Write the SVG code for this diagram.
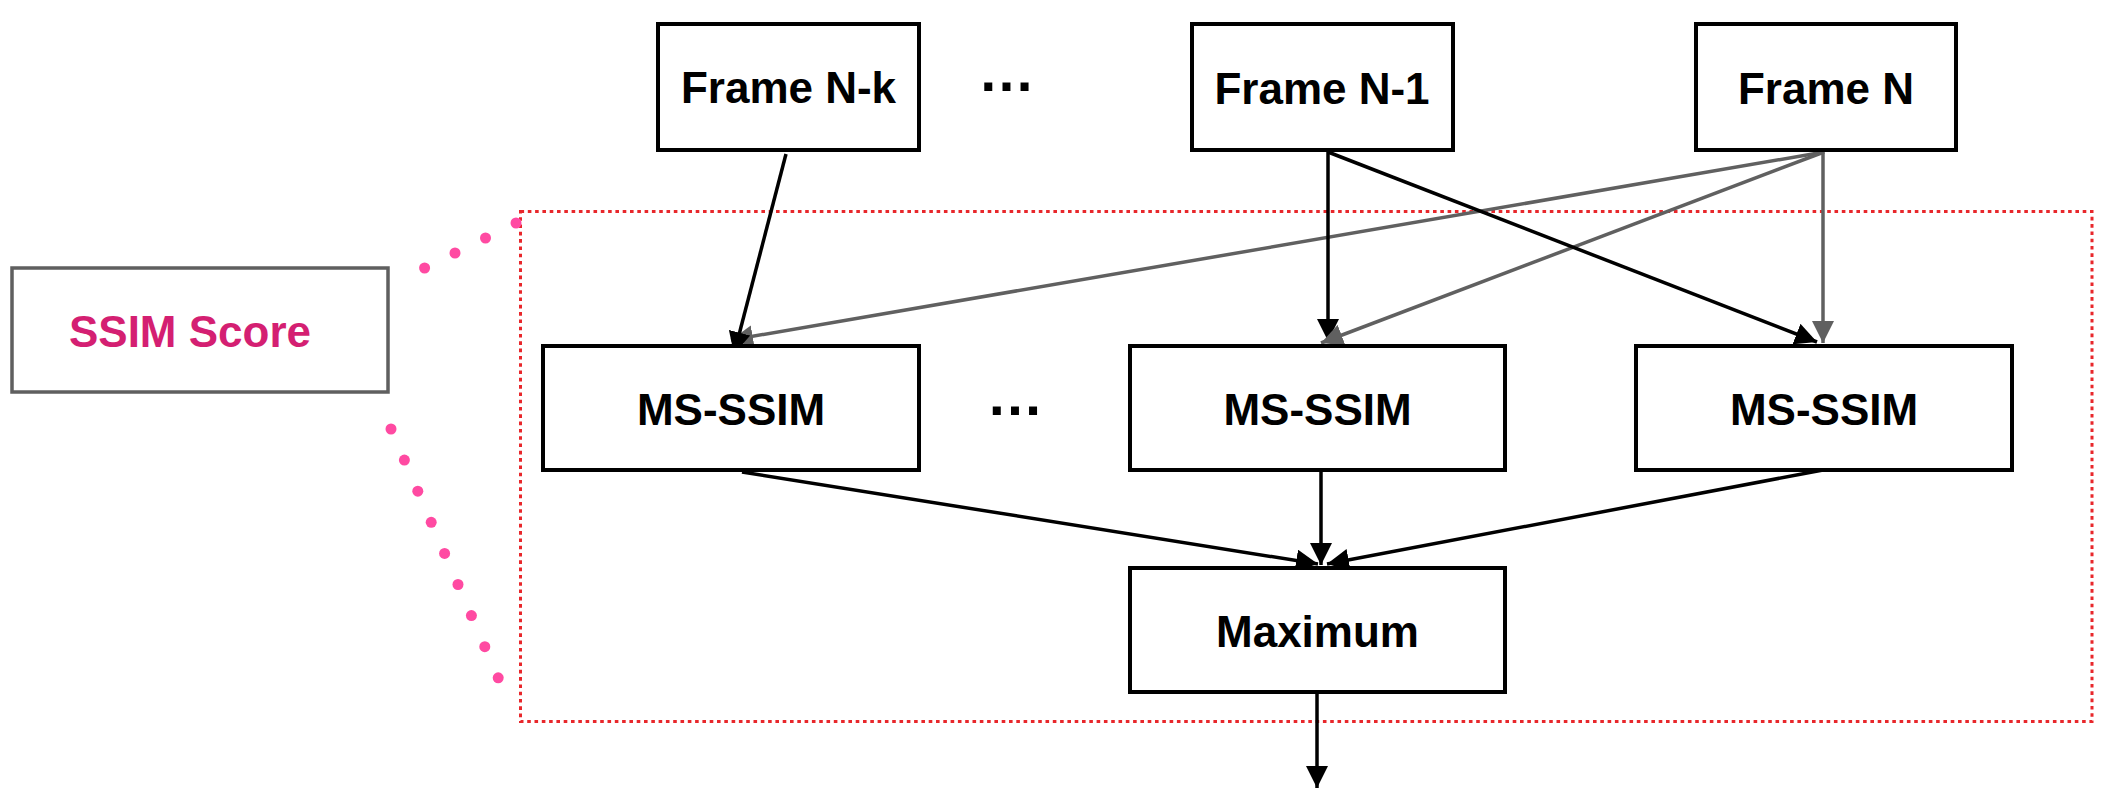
<svg xmlns="http://www.w3.org/2000/svg" width="2118" height="806" viewBox="0 0 2118 806">
<defs>
<style>
.box{fill:#fff;stroke:#000;stroke-width:4}
.lbl{font-family:"Liberation Sans",Arial,sans-serif;font-weight:bold;font-size:44px;fill:#000;text-anchor:middle}
.dots{font-family:"Liberation Sans",Arial,sans-serif;font-weight:bold;font-size:57px;fill:#000;text-anchor:middle}
.blk{fill:none;stroke:#000;stroke-width:3.5}
.gry{fill:none;stroke:#606060;stroke-width:3.5}
.pd{fill:#ff4aa2}
</style>
<marker id="ab" markerUnits="userSpaceOnUse" markerWidth="22" markerHeight="22" refX="22" refY="11" orient="auto" viewBox="0 0 22 22">
<path d="M0,0 L22,11 L0,22 Z" fill="#000"/>
</marker>
<marker id="ag" markerUnits="userSpaceOnUse" markerWidth="22" markerHeight="22" refX="22" refY="11" orient="auto" viewBox="0 0 22 22">
<path d="M0,0 L22,11 L0,22 Z" fill="#606060"/>
</marker>
</defs>
<rect width="2118" height="806" fill="#fff"/>

<g id="group-box">
<rect x="520.5" y="211.5" width="1571.5" height="510" fill="none" stroke="#e8272b" stroke-width="3" stroke-dasharray="3.6 3.7"/>
</g>

<g id="callout-dots">
<circle class="pd" cx="424.6" cy="268" r="5.5"/>
<circle class="pd" cx="455" cy="253" r="5.5"/>
<circle class="pd" cx="485.5" cy="238" r="5.5"/>
<circle class="pd" cx="516" cy="223" r="5.5"/>
<circle class="pd" cx="391" cy="429" r="5.5"/>
<circle class="pd" cx="404.4" cy="460.1" r="5.5"/>
<circle class="pd" cx="417.8" cy="491.2" r="5.5"/>
<circle class="pd" cx="431.2" cy="522.3" r="5.5"/>
<circle class="pd" cx="444.6" cy="553.4" r="5.5"/>
<circle class="pd" cx="458" cy="584.5" r="5.5"/>
<circle class="pd" cx="471.4" cy="615.6" r="5.5"/>
<circle class="pd" cx="484.8" cy="646.7" r="5.5"/>
<circle class="pd" cx="498.2" cy="677.8" r="5.5"/>
</g>

<g id="connectors">
<line class="gry" x1="1824" y1="152" x2="731" y2="340" marker-end="url(#ag)"/>
<line class="blk" x1="786" y1="154" x2="734" y2="354" marker-end="url(#ab)"/>
<line class="blk" x1="1328" y1="152" x2="1328" y2="341" marker-end="url(#ab)"/>
<line class="gry" x1="1824" y1="152" x2="1321" y2="343" marker-end="url(#ag)"/>
<line class="blk" x1="1328" y1="152" x2="1817" y2="342" marker-end="url(#ab)"/>
<line class="gry" x1="1823" y1="152" x2="1823" y2="343" stroke-width="3" marker-end="url(#ag)"/>
<line class="blk" x1="742" y1="472" x2="1318" y2="564" marker-end="url(#ab)"/>
<line class="blk" x1="1321" y1="472" x2="1321" y2="565" marker-end="url(#ab)"/>
<line class="blk" x1="1823" y1="470" x2="1327" y2="564" marker-end="url(#ab)"/>
<line class="blk" x1="1317" y1="694" x2="1317" y2="788" marker-end="url(#ab)"/>
</g>

<g id="frame-n-k">
<rect class="box" x="658" y="24" width="261" height="126"/>
<text class="lbl" x="788.5" y="103">Frame N-k</text>
</g>
<g id="dots-top">
<text class="dots" x="1006.5" y="91">…</text>
</g>
<g id="frame-n-1">
<rect class="box" x="1192" y="24" width="261" height="126"/>
<text class="lbl" x="1322" y="104">Frame N-1</text>
</g>
<g id="frame-n">
<rect class="box" x="1696" y="24" width="260" height="126"/>
<text class="lbl" x="1826" y="104">Frame N</text>
</g>

<g id="ssim-score">
<rect x="12" y="268" width="376" height="124" fill="#fff" stroke="#5f5f5f" stroke-width="3.5"/>
<text class="lbl" x="190" y="347" fill="#d41f72" style="fill:#d41f72">SSIM Score</text>
</g>

<g id="ms-ssim-1">
<rect class="box" x="543" y="346" width="376" height="124"/>
<text class="lbl" x="731" y="425">MS-SSIM</text>
</g>
<g id="dots-mid">
<text class="dots" x="1015" y="415">…</text>
</g>
<g id="ms-ssim-2">
<rect class="box" x="1130" y="346" width="375" height="124"/>
<text class="lbl" x="1317.5" y="425">MS-SSIM</text>
</g>
<g id="ms-ssim-3">
<rect class="box" x="1636" y="346" width="376" height="124"/>
<text class="lbl" x="1824" y="425">MS-SSIM</text>
</g>

<g id="maximum">
<rect class="box" x="1130" y="568" width="375" height="124"/>
<text class="lbl" x="1317.5" y="647">Maximum</text>
</g>
</svg>
